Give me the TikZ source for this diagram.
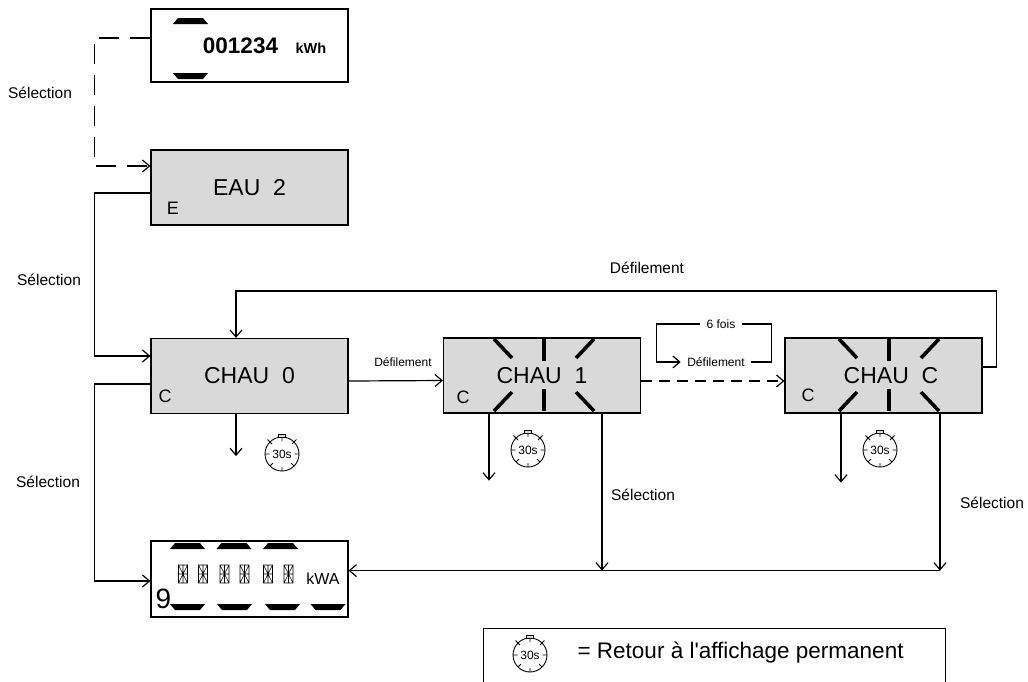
\documentclass[tikz,border=0pt]{standalone}
\usepackage{fontspec}
\setmainfont{Liberation Sans}
\usetikzlibrary{positioning, arrows.meta}
\definecolor{lcdgray}{RGB}{217,217,217}

\begin{document}
\begin{tikzpicture}[x=1pt, y=-1pt, line width=1.2pt,
        >={Straight Barb[length=7pt, width=12pt]},
        lcd/.style={draw, fill=lcdgray, minimum width=197pt, minimum height=75pt, inner sep=0pt, font=\fontsize{23}{23}\selectfont},
        lab/.style={font=\fontsize{15.5}{16}\selectfont, inner sep=1pt},
        small/.style={font=\fontsize{12}{12}\selectfont, inner sep=6pt},
        corner/.style={font=\fontsize{18}{18}\selectfont, inner sep=0pt},
        longdash/.style={dash pattern=on 20pt off 11pt},
        shortdash/.style={dash pattern=on 11pt off 7pt},
        ray/.style={line width=3.6pt},
        chrono/.pic={
            \draw[line width=0.9pt] (0,0) circle[radius=17pt];
            \draw[line width=0.9pt] (0:17pt) -- (0:12.5pt) (90:17pt) -- (90:13pt)
                (180:17pt) -- (180:12.5pt) (270:17pt) -- (270:13pt)
                (225:17pt) -- (225:13pt) (315:17pt) -- (315:13pt)
                (45:14pt) -- (45:20.5pt) (135:14pt) -- (135:20.5pt);
            \draw[line width=0.9pt, fill=lcdgray] (-3.5pt,17pt) rectangle (3.5pt,20pt);
            \node[font=\fontsize{12}{12}\selectfont, inner sep=0pt] {30s};
        },
        blink/.pic={
            \draw[ray] (-32,-17) -- (-50,-36);
            \draw[ray] (0,-14) -- (0,-36);
            \draw[ray] (32,-17) -- (50,-36);
            \draw[ray] (-32,17) -- (-50,36);
            \draw[ray] (0,14) -- (0,36);
            \draw[ray] (32,17) -- (50,36);
        },
        topbar/.pic={\fill (-17.5,3) -- (17.5,3) -- (12.5,-3) -- (-12.5,-3) -- cycle;},
        botbar/.pic={\fill (-17.5,-3) -- (17.5,-3) -- (12.5,3) -- (-12.5,3) -- cycle;},
        segchar/.pic={
            \draw[line width=0.6pt] (-4.5,-9) rectangle (4.5,9) (-4.5,0) -- (4.5,0) (0,-9) -- (0,9)
                (-4.5,-9) -- (4.5,9) (4.5,-9) -- (-4.5,9);
        }]
    \useasboundingbox (0,0) rectangle (1028,681);

    % compteur
    \node[lcd, fill=white, minimum height=73pt] (total) at (249.5, 45.5) {};
    \node[anchor=base, inner sep=0pt, font=\bfseries\fontsize{22.5}{22.5}\selectfont] (index) at (240.5, 53) {001234};
    \node[anchor=base west, inner sep=0pt, font=\bfseries\fontsize{14.5}{14.5}\selectfont] (unit) at (295, 53) {kWh};
    \pic at (190.5, 21) {topbar};
    \pic at (190.5, 76) {botbar};

    % afficheurs
    \node[lcd] (eau) at (249.5, 187.5) {EAU~~2};
    \node[corner] at (173, 208) {E};
    \node[lcd] (chau0) at (249.5, 376) {CHAU~~0};
    \node[corner] at (165, 396) {C};
    \node[lcd] (chau1) at (542, 375.5) {CHAU~~1};
    \node[corner] at (463, 397) {C};
    \pic at (544, 375) {blink};
    \node[lcd] (chauC) at (883.5, 375.5) {\hspace*{15pt}CHAU~~C};
    \node[corner] at (808, 395) {C};
    \pic at (889, 375) {blink};

    % puissance
    \node[lcd, fill=white, minimum height=76pt] (disp) at (249.5, 579) {};
    \foreach \x in {187.5, 234, 280.5}
        \pic at (\x, 546) {topbar};
    \foreach \x in {187.5, 234.5, 282.5, 328}
        \pic at (\x, 607) {botbar};
    \foreach \x in {183, 203, 224.5, 244.5, 268, 288.5}
        \pic at (\x, 574) {segchar};
    \node[inner sep=0pt, font=\fontsize{16}{16}\selectfont] (unitA) at (323, 579) {kWA};
    \node[inner sep=0pt, font=\fontsize{28}{28}\selectfont] (page) at (163.5, 599) {9};

    % chronos
    \pic at (282, 454) {chrono};
    \pic at (528, 450) {chrono};
    \pic at (880, 450) {chrono};

    % liens
    \draw[longdash, ->] ([yshift=7.5pt]total.west) -- ++(-56, 0) |- ([yshift=21.5pt]eau.west);
    \draw[->] ([yshift=-5.5pt]eau.west) -- ++(-56, 0) |- ([yshift=20pt]chau0.west);
    \draw[->] ([yshift=-8pt]chau0.west) -- ++(-56, 0) |- ([yshift=-2pt]disp.west);
    \draw[->] ([yshift=-5pt]chau0.east) -- ([yshift=-5pt]chau1.west);
    \draw[shortdash, ->] ([yshift=-5.5pt]chau1.east) -- ([yshift=-5.5pt]chauC.west);
    \draw[->] ([yshift=8.5pt]chauC.east) -- ++(14, 0) -- ++(0, -76) -| ([xshift=-13.5pt]chau0.north);

    \draw[->] ([xshift=-13.5pt]chau0.south) -- ++(0, 42);
    \draw[->] ([xshift=-53pt]chau1.south) -- ++(0, 67);
    \draw[->] ([xshift=60pt]chau1.south) -- ++(0, 157);
    \draw[->] ([xshift=-42.5pt]chauC.south) -- ++(0, 69);
    \draw[->] ([xshift=56.5pt]chauC.south) -- ++(0, 157) coordinate (meet);
    \draw[->] (meet) -- (meet -| disp.east);

    % boucle 6 fois
    \node[small] (fois) at (721, 324) {6 fois};
    \node[small] (defil) at (716, 362) {Défilement};
    \draw (defil.east) -- ++(20.5, 0) |- (fois.east);
    \draw[->] (fois.west) -- ++(-43.5, 0) |- (defil.west);

    % textes
    \node[lab] at (40, 93) {Sélection};
    \node[lab] at (49, 280) {Sélection};
    \node[lab] at (48, 482) {Sélection};
    \node[lab] at (643, 495) {Sélection};
    \node[lab] at (992, 503) {Sélection};
    \node[lab] at (647, 268) {Défilement};
    \node[small, inner sep=1pt] at (403, 362) {Défilement};

    % legende
    \node[draw, anchor=north west, minimum width=462pt, minimum height=62pt] (legend) at (483, 628) {};
    \pic at (530, 655) {chrono};
    \node[anchor=base west, inner sep=0pt, font=\fontsize{22.5}{22.5}\selectfont] (retour) at (577, 658) {= Retour à l\textquotesingle affichage permanent};
\end{tikzpicture}
\end{document}
